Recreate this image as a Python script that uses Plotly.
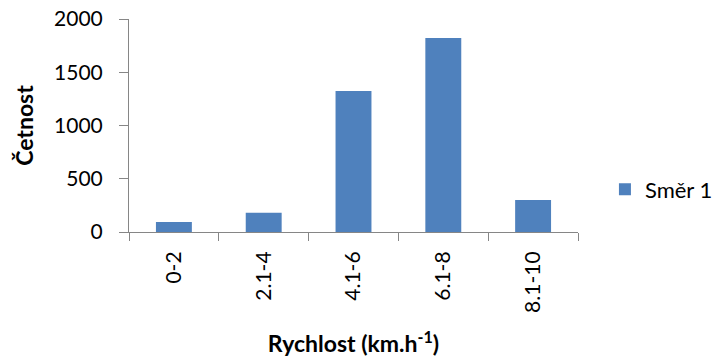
import plotly.graph_objects as go

categories = ["0-2", "2.1-4", "4.1-6", "6.1-8", "8.1-10"]
values = [95, 180, 1325, 1822, 300]
series_name = "Směr 1"
y_ticks = [0, 500, 1000, 1500, 2000]

font_family = "Lato, Open Sans, Liberation Sans, sans-serif"
axis_color = "#868686"

fig = go.Figure()
fig.add_trace(go.Bar(x=categories, y=values, name=series_name,
                     marker=dict(color="#4F81BD", line=dict(width=0))))

fig.update_layout(
    width=720, height=361,
    margin=dict(l=129, r=142, t=19, b=129, autoexpand=False),
    paper_bgcolor="white", plot_bgcolor="white",
    bargap=0.6,
    showlegend=True,
    font=dict(family=font_family, color="#000000"),
    legend=dict(x=1.06, y=0.2, xanchor="left", yanchor="middle",
                font=dict(size=22, family=font_family), itemwidth=30),
    xaxis=dict(
        type="category", tickson="boundaries", ticks="outside", ticklen=8,
        tickcolor=axis_color, showline=True, linecolor=axis_color, linewidth=1,
        tickangle=-90, tickfont=dict(size=21), showgrid=False,
        ticklabelstandoff=10, automargin=False,
        title=dict(text="<b>Rychlost (km.h<sup>-1</sup>)</b>", font=dict(size=23), standoff=24),
    ),
    yaxis=dict(
        range=[0, 2000], tickvals=y_ticks, ticks="outside", ticklen=9,
        tickcolor=axis_color, showline=True, linecolor=axis_color, linewidth=1,
        tickfont=dict(size=21), showgrid=False, zeroline=False,
        ticklabelstandoff=12, automargin=False,
        title=dict(text="<b>Četnost</b>", font=dict(size=23), standoff=14),
    ),
)

fig.write_html("out.html")
